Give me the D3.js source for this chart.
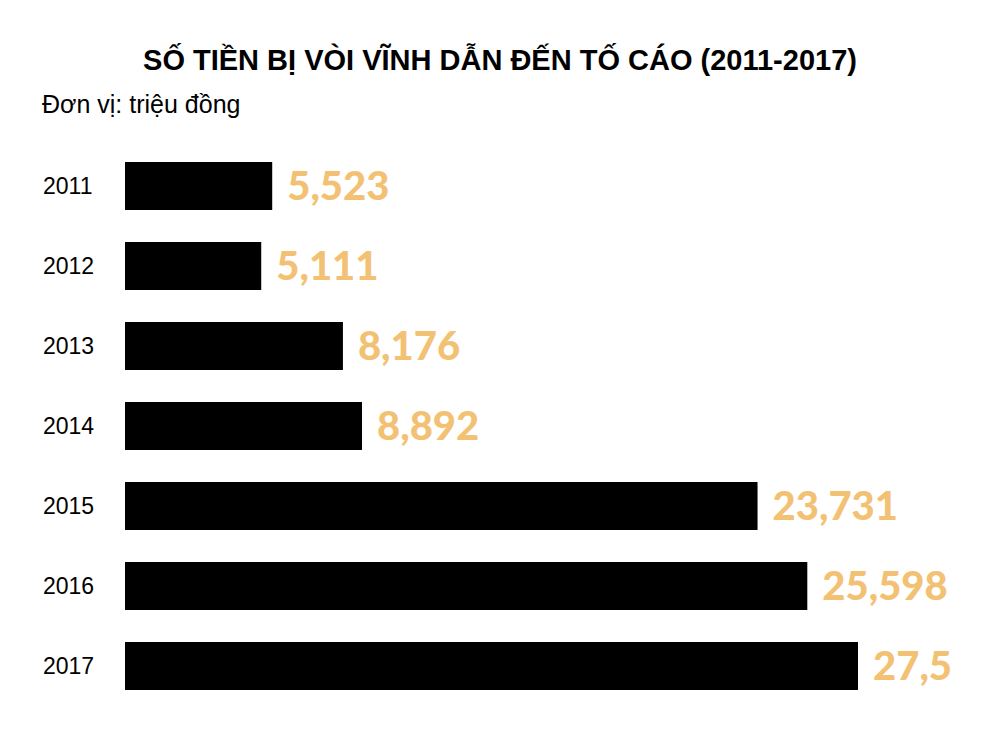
<!DOCTYPE html><html><head><meta charset="utf-8"><script src="https://cdn.jsdelivr.net/npm/d3@7"></script>
<style>body{margin:0;background:#fff}</style></head><body><svg id="c" width="1000" height="736"></svg>
<script>
const years=["2011","2012","2013","2014","2015","2016","2017"];
const values=[5523,5111,8176,8892,23731,25598,27500];
const valueLabels=["5,523","5,111","8,176","8,892","23,731","25,598","27,5"];
const svg=d3.select("#c");
const x=d3.scaleLinear().domain([0,27500]).range([125,858]);
const y=d3.scaleBand().domain(years).range([146,706]).paddingInner(0.4).paddingOuter(0.2);
svg.append("text").attr("x",500).attr("y",70).attr("text-anchor","middle").attr("font-family","Liberation Sans, Arial").attr("font-weight","bold").attr("font-size",29).text("SỐ TIỀN BỊ VÒI VĨNH DẪN ĐẾN TỐ CÁO (2011-2017)");
svg.append("text").attr("x",42).attr("y",113).attr("font-family","Liberation Sans, Arial").attr("font-size",25).text("Đơn vị: triệu đồng");
const g=svg.selectAll("g.r").data(years).join("g");
g.append("rect").attr("x",x(0)).attr("y",d=>y(d)).attr("height",y.bandwidth()).attr("width",(d,i)=>x(values[i])-x(0)).attr("fill","#000");
g.append("text").attr("x",43).attr("y",d=>y(d)+y.bandwidth()/2+8).attr("font-family","Liberation Sans, Arial").attr("font-size",23).text(d=>d);
g.append("text").attr("x",(d,i)=>x(values[i])+15).attr("y",d=>y(d)+y.bandwidth()/2+14).attr("font-family","Lato, Open Sans, sans-serif").attr("font-weight",900).attr("font-size",40).attr("fill","#f3c173").text((d,i)=>valueLabels[i]);
</script></body></html>
